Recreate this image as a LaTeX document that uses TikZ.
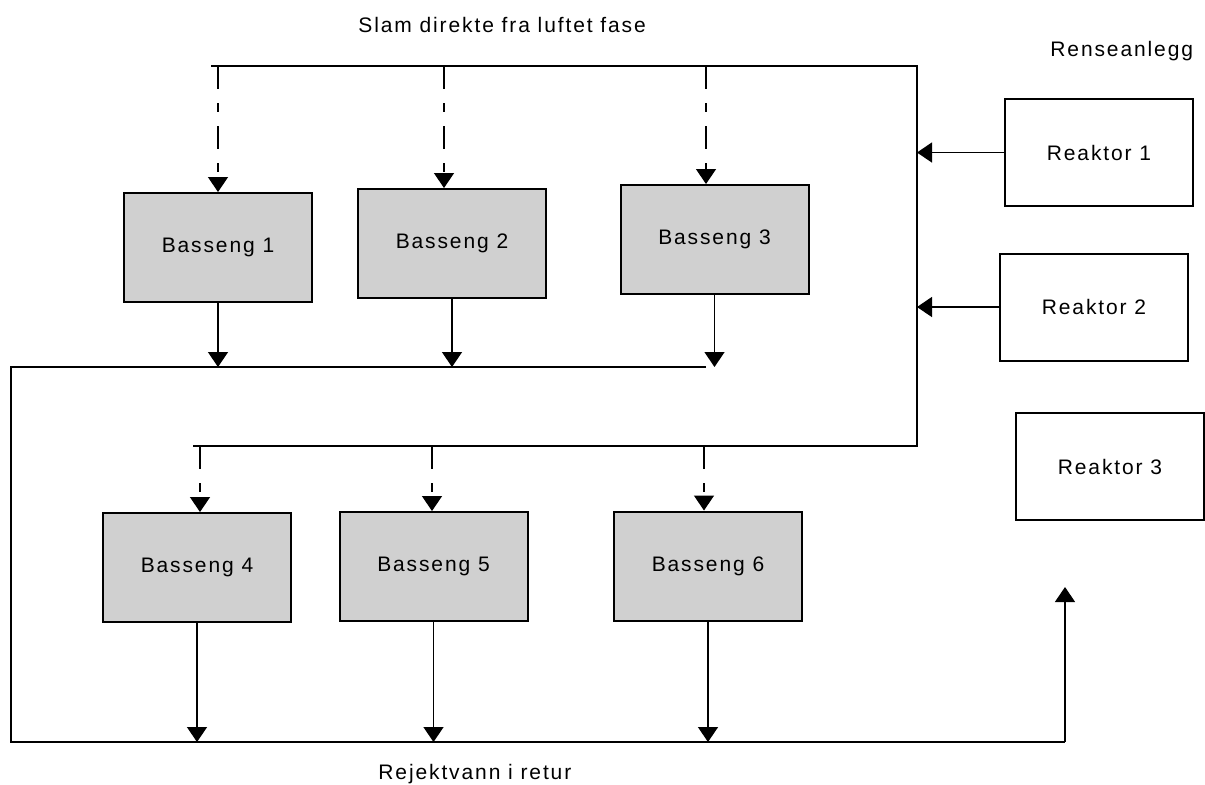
\documentclass[tikz,border=0pt]{standalone}
\usepackage{fontspec}
\setmainfont{Liberation Sans}[LetterSpace=9]
\usetikzlibrary{arrows.meta}
\definecolor{basinfill}{RGB}{208,208,208}
\begin{document}
\begin{tikzpicture}[x=0.5pt,y=-0.5pt,
  lbl/.style={font=\fontsize{10.5}{12}\selectfont},
  basin/.style={draw,fill=basinfill,line width=1pt,minimum width=94pt,minimum height=54.5pt,inner sep=0pt,lbl},
  reactor/.style={draw,fill=white,line width=1pt,minimum width=94pt,minimum height=53.5pt,inner sep=0pt,lbl},
  pipe/.style={line width=1pt},
  flow/.style={line width=0.7pt,-{Triangle[length=7.5pt,width=10pt]}},
  sludge/.style={flow,dash pattern=on 11.5pt off 7pt on 4.5pt off 7pt}]
\useasboundingbox (0,0) rectangle (1205,784);
\fill[white] (0,0) rectangle (1205,784);

% basins
\node[basin] (b1) at (218,247.5) {Basseng 1};
\node[basin] (b2) at (452,243.5) {Basseng 2};
\node[basin] (b3) at (714.5,239.5) {Basseng 3};
\node[basin] (b4) at (197,567.5) {Basseng 4};
\node[basin] (b5) at (433.5,566.5) {Basseng 5};
\node[basin] (b6) at (708,566) {Basseng 6};

% reactors
\node[reactor] (r1) at (1099,152.5) {Reaktor 1};
\node[reactor] (r2) at (1094,307) {Reaktor 2};
\node[reactor] (r3) at (1110,466.5) {Reaktor 3};

% labels
\node[lbl,anchor=base west,inner sep=0pt] (slam) at (358,32) {Slam direkte fra luftet fase};
\node[lbl,anchor=base west,inner sep=0pt] (rens) at (1050,56) {Renseanlegg};
\node[lbl,anchor=base west,inner sep=0pt] (rej) at (378,779) {Rejektvann i retur};

% pipe coordinates
\coordinate (tl) at (211,66);
\coordinate (tr) at (917,66);
\coordinate (l2r) at (917,446);
\coordinate (l2l) at (193,446);
\coordinate (me) at (706,367);
\coordinate (ml) at (11,367);
\coordinate (bl) at (11,742);
\coordinate (br) at (1065,742);
\coordinate (up) at (1065,587);

\draw[pipe] (tl) -- (tr) -- (l2r) -- (l2l);
\draw[pipe] (me) -- (ml) -- (bl) -- (br);
\draw[flow] (br) -- (up);

% sludge drops
\coordinate (d1) at (218,66);
\coordinate (d2) at (444,66);
\coordinate (d3) at (706,66);
\coordinate (d4) at (200,446);
\coordinate (d5) at (432,446);
\coordinate (d6) at (704,446);
\draw[sludge] (d1) -- (d1 |- b1.north);
\draw[sludge] (d2) -- (d2 |- b2.north);
\draw[sludge] (d3) -- (d3 |- b3.north);
\draw[sludge] (d4) -- (d4 |- b4.north);
\draw[sludge] (d5) -- (d5 |- b5.north);
\draw[sludge] (d6) -- (d6 |- b6.north);

% outflows
\draw[flow] (b1.south) -- (b1.south |- ml);
\draw[flow] (b2.south) -- (b2.south |- ml);
\draw[flow] (b3.south) -- (b3.south |- ml);
\draw[flow] (b4.south) -- (b4.south |- bl);
\draw[flow] (b5.south) -- (b5.south |- bl);
\draw[flow] (b6.south) -- (b6.south |- bl);

% reactor feeds
\draw[flow] (r1.west) -- (r1.west -| tr);
\draw[flow] (r2.west) -- (r2.west -| tr);
\end{tikzpicture}
\end{document}
